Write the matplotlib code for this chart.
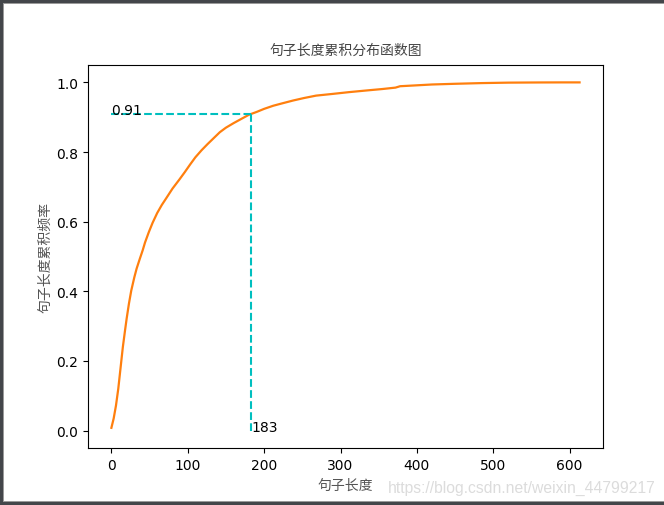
import matplotlib
matplotlib.use("Agg")
import matplotlib.pyplot as plt
from matplotlib.patches import Rectangle

plt.rcParams['font.family'] = ['DejaVu Sans']
cjk = ['Noto Sans CJK SC', 'DejaVu Sans']

# sentence length vs cumulative frequency
lengths = [0, 3, 6, 9, 11, 13, 15, 18, 20, 23, 26, 30, 33, 37, 41, 44, 49,
           54, 60, 66, 72, 80, 89, 96, 103, 110, 118, 126, 134, 142, 150,
           160, 170, 180, 190, 200, 212, 224, 238, 252, 268, 290, 311, 335,
           355, 372, 378, 395, 420, 450, 485, 520, 560, 590, 613]
cdf = [0.008, 0.035, 0.072, 0.120, 0.160, 0.200, 0.240, 0.290, 0.322, 0.365,
       0.402, 0.440, 0.465, 0.492, 0.518, 0.540, 0.570, 0.597, 0.625, 0.648,
       0.668, 0.695, 0.721, 0.742, 0.764, 0.785, 0.805, 0.823, 0.840, 0.857,
       0.870, 0.883, 0.895, 0.907, 0.915, 0.924, 0.933, 0.940, 0.948, 0.955,
       0.962, 0.967, 0.972, 0.977, 0.981, 0.985, 0.989, 0.991, 0.994, 0.996,
       0.998, 0.9993, 0.9998, 1.0, 1.0]

cut_len = 183
cut_p = 0.91

fig = plt.figure(figsize=(6.64, 5.06), dpi=100)
ax = fig.add_axes([0.1325, 0.1126, 0.7756, 0.757])

ax.plot(lengths, cdf, color='C1', lw=1.6)
ax.hlines(cut_p, 0, cut_len, colors='c', linestyles='dashed', lw=1.5)
ax.vlines(cut_len, 0, cut_p, colors='c', linestyles='dashed', lw=1.5)
ax.text(0, cut_p, str(cut_p), fontsize=10, ha='left', va='baseline')
ax.text(cut_len, 0, str(cut_len), fontsize=10, ha='left', va='baseline')

ax.set_title('句子长度累积分布函数图', family=cjk, fontsize=10, pad=8, color='#444444')
ax.set_xlabel('句子长度', family=cjk, fontsize=10, color='#555555', labelpad=4)
ax.set_ylabel('句子长度累积频率', family=cjk, fontsize=10, color='#555555', labelpad=3)
ax.tick_params(labelsize=10)

# watermark and screenshot frame
fig.text(0.987, 0.02, 'https://blog.csdn.net/weixin_44799217', ha='right', va='bottom',
         fontsize=11.3, color='#dcdcdc', family=['Liberation Sans', 'DejaVu Sans'])
W, H = 664, 506
for x, y, w, h, c in [(0, 0, 3, H, '#43464a'), (0, H - 4, W, 4, '#43464a'),
                      (0, 0, W, 3, '#43464a'), (3, 3, 1, H - 7, '#9a9a9a'),
                      (3, H - 5, W - 3, 1, '#9a9a9a'), (3, 3, W - 3, 1, '#9a9a9a')]:
    fig.patches.append(Rectangle((x / W, y / H), w / W, h / H, transform=fig.transFigure,
                                 facecolor=c, edgecolor='none', zorder=10))

fig.savefig('out.png', dpi=100)
